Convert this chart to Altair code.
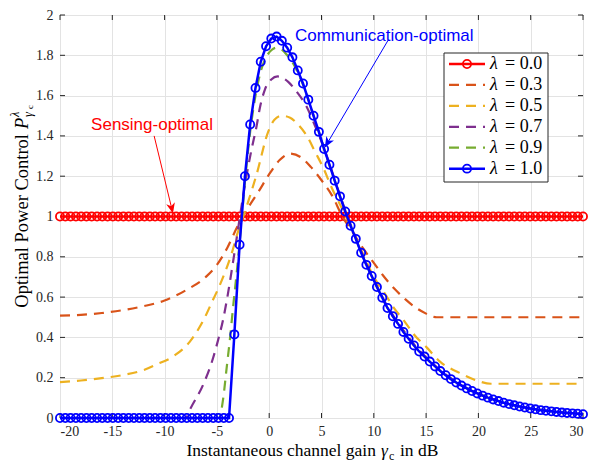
import altair as alt
import pandas as pd

# ---------------- data ----------------
x_grid = [-20.00, -19.49, -18.99, -18.48, -17.98, -17.47, -16.97, -16.46, -15.96, -15.45,
          -14.95, -14.44, -13.94, -13.43, -12.93, -12.42, -11.92, -11.41, -10.91, -10.40,
          -9.90, -9.39, -8.89, -8.38, -7.88, -7.37, -6.87, -6.36, -5.86, -5.35,
          -4.85, -4.34, -3.84, -3.33, -2.83, -2.32, -1.82, -1.31, -0.81, -0.30,
          0.20, 0.71, 1.21, 1.72, 2.22, 2.73, 3.23, 3.74, 4.24, 4.75,
          5.25, 5.76, 6.26, 6.77, 7.27, 7.78, 8.28, 8.79, 9.29, 9.80,
          10.30, 10.81, 11.31, 11.82, 12.32, 12.83, 13.33, 13.84, 14.34, 14.85,
          15.35, 15.86, 16.36, 16.87, 17.37, 17.88, 18.38, 18.89, 19.39, 19.90,
          20.40, 20.91, 21.41, 21.92, 22.42, 22.93, 23.43, 23.94, 24.44, 24.95,
          25.45, 25.96, 26.46, 26.97, 27.47, 27.98, 28.48, 28.99, 29.49, 30.00]

p_lam00 = [1.0] * 100

p_lam10 = [0.0] * 33 + [
    0.415, 0.86, 1.20, 1.457, 1.638, 1.768, 1.845, 1.883, 1.893, 1.872,
    1.838, 1.79, 1.725, 1.66, 1.58, 1.50, 1.42, 1.335, 1.257, 1.178,
    1.10, 1.025, 0.954, 0.889, 0.82, 0.76, 0.705, 0.65, 0.597, 0.546,
    0.505, 0.467, 0.427, 0.393, 0.36, 0.33, 0.305, 0.28, 0.256, 0.233,
    0.212, 0.193, 0.176, 0.161, 0.147, 0.134, 0.122, 0.111, 0.101, 0.092,
    0.084, 0.076, 0.069, 0.063, 0.057, 0.052, 0.047, 0.043, 0.039, 0.036,
    0.033, 0.030, 0.027, 0.025, 0.023, 0.021, 0.019]

lam03_x = [-20, -18, -16, -14, -12, -10, -8, -6, -5, -4, -3, -2, -1, 0, 1, 2, 3, 4, 5, 6,
           7, 8, 9, 10, 11, 12, 13, 14, 15, 15.5, 16, 30]
lam03_y = [0.508, 0.512, 0.521, 0.535, 0.555, 0.583, 0.633, 0.703, 0.76, 0.845, 0.955, 1.045,
           1.125, 1.21, 1.28, 1.312, 1.295, 1.245, 1.18, 1.105, 1.0, 0.92, 0.84, 0.77, 0.70,
           0.64, 0.59, 0.548, 0.518, 0.506, 0.5, 0.5]

lam05_x = [-20, -18, -16, -14, -12, -10.8, -9.2, -7.6, -6.3, -5.35, -4.8, -4.4, -3.6, -3.1,
           -2, -1.2, -0.1, 0.5, 1.2, 2, 2.6, 3.6, 4.4, 5.2, 6, 7, 8, 9, 10, 10.9, 11.9, 13,
           13.9, 15.1, 16.3, 18.2, 20, 21.2, 30]
lam05_y = [0.178, 0.186, 0.198, 0.213, 0.238, 0.265, 0.305, 0.378, 0.484, 0.589, 0.65, 0.70,
           0.815, 0.905, 1.075, 1.21, 1.42, 1.48, 1.50, 1.49, 1.465, 1.40, 1.32, 1.238, 1.14,
           1.035, 0.925, 0.81, 0.70, 0.63, 0.548, 0.475, 0.411, 0.348, 0.281, 0.224, 0.183,
           0.170, 0.170]

lam07_x = [-20, -8, -7.5, -6.3, -5.35, -4.87, -4.4, -4.0, -3.44, -3, -2.5, -2, -1.68, -1.2,
           -0.89, -0.41, 0.2, 0.8, 1.82, 2.62, 3.57, 4.3, 5.2, 5.76, 6.26, 6.77, 7.27, 8.28,
           9.29, 10.3, 11.31, 12.32, 13.33, 14.34, 15.35, 16.36, 18.38, 20.4, 22.42, 24.44,
           26.46, 28.48, 30]
lam07_y = [0.0, 0.0, 0.05, 0.167, 0.30, 0.39, 0.49, 0.60, 0.78, 0.93, 1.10, 1.25, 1.335, 1.45,
           1.54, 1.63, 1.68, 1.695, 1.668, 1.62, 1.546, 1.46, 1.345, 1.262, 1.183, 1.105, 1.03,
           0.895, 0.765, 0.656, 0.552, 0.473, 0.40, 0.336, 0.285, 0.237, 0.163, 0.113, 0.077,
           0.053, 0.037, 0.026, 0.02]

lam09_x = [-20, -4.8, -4.39, -4.07, -3.75, -3.44, -3.11, -2.9, -2.32, -1.82, -1.31, -0.81,
           -0.3, 0.2, 0.71, 1.21, 1.72, 2.22, 2.73, 3.23, 3.74, 4.24, 4.75, 5.25, 6.26, 7.27,
           8.28, 9.29, 10.3, 11.31, 12.32, 13.33, 14.34, 15.35, 16.36, 18.38, 20.4, 22.42,
           24.44, 26.46, 28.48, 30]
lam09_y = [0.0, 0.0, 0.10, 0.248, 0.394, 0.557, 0.719, 0.83, 1.17, 1.42, 1.60, 1.72, 1.79,
           1.825, 1.838, 1.828, 1.80, 1.765, 1.715, 1.655, 1.58, 1.50, 1.42, 1.335, 1.178,
           1.025, 0.889, 0.76, 0.65, 0.546, 0.467, 0.393, 0.33, 0.28, 0.233, 0.161, 0.111,
           0.076, 0.052, 0.036, 0.025, 0.019]

x_ticks = [-20, -15, -10, -5, 0, 5, 10, 15, 20, 25, 30]
y_ticks = [0, 0.2, 0.4, 0.6, 0.8, 1, 1.2, 1.4, 1.6, 1.8, 2]

legend_values = ["= 0.0", "= 0.3", "= 0.5", "= 0.7", "= 0.9", "= 1.0"]
sensing_text = "Sensing-optimal"
sensing_arrow_x = [-11.0, -9.2]
sensing_arrow_y = [1.40, 1.015]
comm_text = "Communication-optimal"
comm_arrow_x = [11.37, 5.32]
comm_arrow_y = [1.875, 1.343]
sensing_text_pos = (-11.2, 1.455)
comm_text_pos = (11.0, 1.895)

# ---------------- styles ----------------
W, H = 523, 403
AX = "#262626"
SERIF = "Liberation Serif"
SANS = "Liberation Sans"
C00, C03, C05, C07, C09, C10 = "#FF0000", "#D95319", "#EDB120", "#7E2F8E", "#77AC30", "#0000FF"
DASH = [10, 7]
MSIZE = 66

xs = alt.Scale(domain=[-20, 30], nice=False, zero=False)
ys = alt.Scale(domain=[0, 2], nice=False, zero=False)

x_axis = alt.Axis(values=x_ticks, labelExpr="datum.value + ''", title=None, grid=True,
                  gridColor="#E3E3E3", gridWidth=1, domain=False, ticks=False, tickSize=0,
                  labelFont=SERIF, labelFontSize=14, labelColor=AX, labelPadding=6)
y_axis = alt.Axis(values=y_ticks, format="~g", title=None, grid=True,
                  gridColor="#E3E3E3", gridWidth=1, domain=False, ticks=False, tickSize=0,
                  labelFont=SERIF, labelFontSize=14, labelColor=AX, labelPadding=7)


def enc(chart):
    return chart.encode(x=alt.X("x:Q", scale=xs), y=alt.Y("y:Q", scale=ys))


layers = []

# inward ticks (box style) + axes
xt = pd.DataFrame({"x": x_ticks})
yt = pd.DataFrame({"y": y_ticks})
tick_style = dict(color=AX, strokeWidth=1)
layers.append(alt.Chart(xt).mark_rule(**tick_style).encode(
    x=alt.X("x:Q", scale=xs, axis=x_axis), y=alt.value(H), y2=alt.value(H - 5)))
layers.append(alt.Chart(xt).mark_rule(**tick_style).encode(
    x=alt.X("x:Q", scale=xs), y=alt.value(0), y2=alt.value(5)))
layers.append(alt.Chart(yt).mark_rule(**tick_style).encode(
    y=alt.Y("y:Q", scale=ys, axis=y_axis), x=alt.value(0), x2=alt.value(5)))
layers.append(alt.Chart(yt).mark_rule(**tick_style).encode(
    y=alt.Y("y:Q", scale=ys), x=alt.value(W), x2=alt.value(W - 5)))


def curve(xv, yv, color, dashed, width, marker=False, interp="linear"):
    df = pd.DataFrame({"x": xv, "y": yv})
    kw = dict(color=color, strokeWidth=width, interpolate=interp, clip=False)
    if dashed:
        kw["strokeDash"] = DASH
    out = [enc(alt.Chart(df).mark_line(**kw))]
    if marker:
        out.append(enc(alt.Chart(df).mark_point(shape="circle", filled=False, color=color,
                                                 size=MSIZE, strokeWidth=1.8, opacity=1)))
    return out


layers += curve(x_grid, p_lam00, C00, False, 2.5, marker=True)
layers += curve(lam03_x, lam03_y, C03, True, 2.2, interp="monotone")
layers += curve(lam05_x, lam05_y, C05, True, 2.2, interp="monotone")
layers += curve(lam07_x, lam07_y, C07, True, 2.2, interp="monotone")
layers += curve(lam09_x, lam09_y, C09, True, 2.2, interp="monotone")
layers += curve(x_grid, p_lam10, C10, False, 2.5, marker=True)

# annotations
ARROW = "M0,0 L-0.42,-1 L0,-0.72 L0.42,-1 Z"
for ax_, ay_, col, ang in [(sensing_arrow_x, sensing_arrow_y, C00, 346.6),
                           (comm_arrow_x, comm_arrow_y, C10, 30.3)]:
    seg = pd.DataFrame({"x": [ax_[0]], "y": [ay_[0]], "x2": [ax_[1]], "y2": [ay_[1]]})
    layers.append(alt.Chart(seg).mark_rule(color=col, strokeWidth=1).encode(
        x=alt.X("x:Q", scale=xs), y=alt.Y("y:Q", scale=ys), x2="x2:Q", y2="y2:Q"))
    tip = pd.DataFrame({"x": [ax_[1]], "y": [ay_[1]]})
    layers.append(enc(alt.Chart(tip).mark_point(shape=ARROW, filled=True, color=col, size=440,
                                                angle=ang, opacity=1, strokeWidth=0.5)))

for (tx, ty), t, col in [(sensing_text_pos, sensing_text, C00), (comm_text_pos, comm_text, C10)]:
    df = pd.DataFrame({"x": [tx], "y": [ty]})
    layers.append(enc(alt.Chart(df).mark_text(text=t, color=col, font=SANS, fontSize=17,
                                               align="center", baseline="middle")))


def txt(t, x, y, size, style="normal", angle=0, align="left", baseline="alphabetic"):
    kw = dict(text=t, font=SERIF, fontSize=size, color="black", align=align,
              baseline=baseline, fontStyle=style)
    if angle:
        kw["angle"] = angle
    return alt.Chart(pd.DataFrame({"a": [0]})).mark_text(**kw).encode(
        x=alt.value(x), y=alt.value(y))


# legend (drawn like the MATLAB box)
LX0, LX1, LY0, LY1 = 384, 488, 38, 167
layers.append(alt.Chart(pd.DataFrame({"a": [0]})).mark_rect(
    fill="white", stroke=AX, strokeWidth=1).encode(
    x=alt.value(LX0), x2=alt.value(LX1), y=alt.value(LY0), y2=alt.value(LY1)))
leg_colors = [C00, C03, C05, C07, C09, C10]
for i, (lab, col) in enumerate(zip(legend_values, leg_colors)):
    ry = 49 + i * 20.93
    dashed = i not in (0, 5)
    rk = dict(color=col, strokeWidth=2.5 if not dashed else 2.2)
    if dashed:
        rk["strokeDash"] = DASH
    layers.append(alt.Chart(pd.DataFrame({"a": [0]})).mark_rule(**rk).encode(
        x=alt.value(389), x2=alt.value(425), y=alt.value(ry)))
    if not dashed:
        layers.append(alt.Chart(pd.DataFrame({"a": [0]})).mark_point(
            shape="circle", filled=False, color=col, size=MSIZE, strokeWidth=1.8, opacity=1).encode(
            x=alt.value(407), y=alt.value(ry)))
    layers.append(txt("λ", 430, ry, 18, style="italic", baseline="middle"))
    layers.append(txt(lab, 445, ry, 18, baseline="middle"))

# axis titles built from pieces (for sub/superscripts)
layers.append(txt("Instantaneous channel gain", 316, 441, 17.5, align="right"))
layers.append(txt("γ", 321, 441, 17.5, style="italic"))
layers.append(txt("c", 329, 445, 12))
layers.append(txt("in dB", 340, 441, 17.5))

layers.append(txt("Optimal Power Control", -38, 119, 18.5, angle=270, align="right",
                  baseline="middle"))
layers.append(txt("P", -38, 114, 18.5, style="italic", angle=270, baseline="middle"))
layers.append(txt("λ", -45, 102, 12.5, style="italic", angle=270, baseline="middle"))
layers.append(txt("γ", -32, 102, 12.5, style="italic", angle=270, baseline="middle"))
layers.append(txt("c", -30, 94, 9, angle=270, baseline="middle"))

chart = alt.layer(*layers).properties(
    width=W, height=H,
    autosize=alt.AutoSizeParams(type="none"),
    padding={"left": 52, "top": 7, "right": 12, "bottom": 45},
    background="white",
).configure_view(stroke=AX, strokeWidth=1).configure_axis(
    labelFont=SERIF, labelFontSize=14, labelColor=AX)

chart.save("out.html", embed_options={"renderer": "svg", "actions": False})
